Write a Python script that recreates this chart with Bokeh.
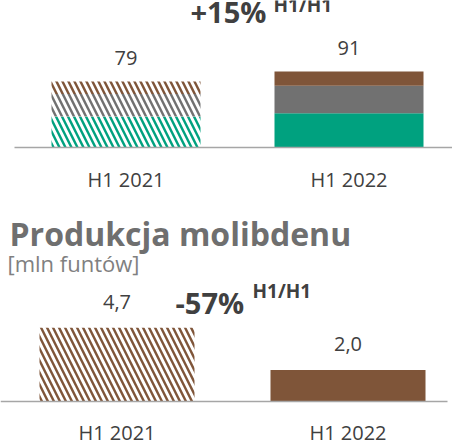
import numpy as np
from bokeh.plotting import figure
from bokeh.layouts import column
from bokeh.models import Range1d, ColumnDataSource
from bokeh.core.properties import value
from bokeh.embed import file_html
from bokeh.resources import INLINE

# ---------------- data ----------------
categories = ["H1 2021", "H1 2022"]
series_names = ["seria_zielona", "seria_szara", "seria_brazowa"]
seg_green = [37, 41]
seg_gray = [27, 33]
seg_brown = [15, 17]
top_labels = ["79", "91"]
top_change = "+15%"
period_label = "H1/H1"

moly_title = "Produkcja molibdenu"
moly_unit = "[mln funtów]"
moly_values = [4.7, 2.0]
moly_labels = ["4,7", "2,0"]
moly_change = "-57%"

# ---------------- style ----------------
FONT = value("Open Sans")
C_GREEN = "#00A17F"
C_GRAY = "#717171"
C_BROWN = "#7F5539"
C_TEXT = "#404040"
C_AXIS = "#A6A6A6"
HATCH = "\\"
HATCH_SCALE = 12
HATCH_WEIGHT = 2.4
MID = 0.39  # text anchor sits ~0.39em above the baseline in this renderer

xs = np.arange(len(categories))
hatched = [True, False]  # H1 2021 hatched, H1 2022 solid


def base_fig(w, h, xr, yr):
    p = figure(width=w, height=h, x_range=Range1d(*xr), y_range=Range1d(*yr),
               output_backend="svg", toolbar_location=None, min_border=0)
    p.axis.visible = False
    p.grid.visible = False
    p.outline_line_color = None
    p.background_fill_color = None
    p.border_fill_color = None
    return p


def add_bars(p, bottoms, tops, color, width):
    fills = ["white" if h else color for h in hatched]
    pats = [HATCH if h else " " for h in hatched]
    src = ColumnDataSource(dict(x=xs, b=bottoms, t=tops, f=fills, hp=pats))
    p.vbar(x="x", bottom="b", top="t", width=width, source=src,
           fill_color="f", line_color=None,
           hatch_pattern="hp", hatch_color=color,
           hatch_scale=HATCH_SCALE, hatch_weight=HATCH_WEIGHT)


def txt(p, x, y, t, fs, dx=0, base=0, align="left", bold=False, color=C_TEXT):
    p.text(x=x, y=y, text=t, x_offset=dx, y_offset=base - MID * fs,
           text_align=align, text_baseline="alphabetic", text_font=FONT,
           text_font_size=f"{fs}px", text_font_style="bold" if bold else "normal",
           text_color=color)


W = 452

# ---------------- top chart ----------------
H1 = 205
axis1_px = 147          # px from top to baseline
sy1 = 0.835             # px per unit
sx1 = 223               # px per category step
x0_1 = -125.5 / sx1
x1_1 = 1 + (W - 348.5) / sx1
y1_end = axis1_px / sy1
y1_start = -(H1 - axis1_px) / sy1
p1 = base_fig(W, H1, (x0_1, x1_1), (y1_start, y1_end))

stack = np.vstack([seg_green, seg_gray, seg_brown])
cum = np.cumsum(stack, axis=0)
bots = np.vstack([np.zeros(len(categories)), cum[:-1]])
for i, col in enumerate([C_GREEN, C_GRAY, C_BROWN]):
    add_bars(p1, bots[i], cum[i], col, 149 / sx1)

p1.segment(x0=[x0_1 + 14 / sx1], x1=[x1_1], y0=[0], y1=[0], line_color=C_AXIS, line_width=1.5)
totals = cum[-1]
txt(p1, xs, totals, top_labels, 20, base=-15.5, align="center")
txt(p1, xs, [0] * len(xs), categories, 20, base=39.5, align="center")
mid1 = xs.mean()
txt(p1, [mid1], [y1_end], [top_change], 29, dx=-47, base=22, bold=True)
txt(p1, [mid1], [y1_end], [period_label], 19, dx=36, base=12, bold=True)

# ---------------- bottom chart ----------------
H2 = 446 - H1
axis2_px = 401 - H1
sy2 = 15.7
sx2 = 231
x0_2 = -116.5 / sx2
x1_2 = 1 + (W - 347.5) / sx2
y2_end = axis2_px / sy2
y2_start = -(H2 - axis2_px) / sy2
p2 = base_fig(W, H2, (x0_2, x1_2), (y2_start, y2_end))

add_bars(p2, [0] * len(moly_values), moly_values, C_BROWN, 155 / sx2)
p2.segment(x0=[x0_2], x1=[x1_2 - 5 / sx2], y0=[0], y1=[0], line_color=C_AXIS, line_width=1.5)
txt(p2, xs, moly_values, moly_labels, 20, base=-18, align="center")
txt(p2, xs, [0] * len(xs), categories, 20, base=39, align="center")
txt(p2, [x0_2], [y2_end], [moly_title], 32, dx=9, base=245 - H1, bold=True, color="#6F6F6F")
txt(p2, [x0_2], [y2_end], [moly_unit], 22, dx=7, base=271 - H1, color="#808080")
mid2 = xs.mean()
txt(p2, [mid2], [y2_end], [moly_change], 29, dx=-57, base=313 - H1, bold=True)
txt(p2, [mid2], [y2_end], [period_label], 19, dx=20, base=298 - H1, bold=True)

layout = column(p1, p2)
open("out.html", "w").write(file_html(layout, INLINE))
